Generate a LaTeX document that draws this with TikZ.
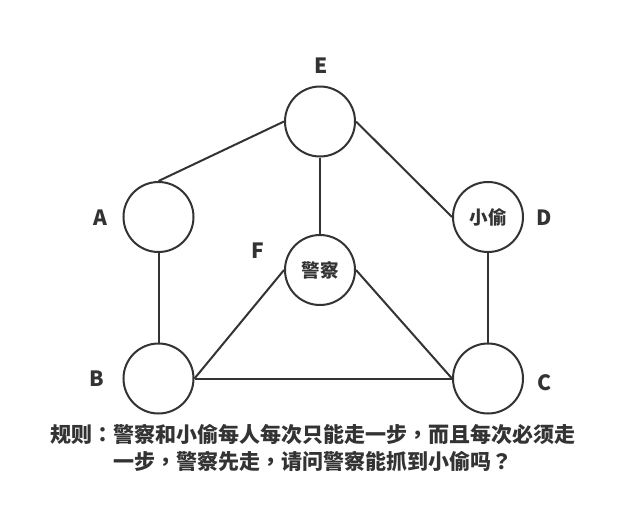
\documentclass[tikz,border=0pt]{standalone}
\usepackage{fontspec}
\newfontfamily\cjk{Noto Sans CJK SC}
\newfontfamily\cjkp{Noto Sans CJK TC}
\newcommand{\pc}[1]{{\cjkp #1}}
\definecolor{ink}{HTML}{333333}
\begin{document}
\begin{tikzpicture}[x=1pt,y=-1pt,
  vtx/.style={circle,draw=ink,line width=2pt,minimum size=70pt,inner sep=0pt,font=\cjk\bfseries\fontsize{18.5}{20}\selectfont,text=ink},
  lbl/.style={anchor=base,inner sep=0pt,font=\cjk\bfseries\fontsize{21}{24}\selectfont,text=ink},
  link/.style={draw=ink,line width=2pt}]
\useasboundingbox (0,0) rectangle (641,528);
\fill[white] (0,0) rectangle (641,528);
% vertices
\node[vtx] (E) at (320,121.5) {};
\node[vtx] (A) at (158.5,217) {};
\node[vtx] (F) at (320,270) {警察};
\node[vtx] (D) at (488,217) {小偷};
\node[vtx] (B) at (158.5,378.5) {};
\node[vtx] (C) at (488,378.5) {};
% labels
\node[lbl] (lE) at (321,73) {E};
\node[lbl] (lA) at (100,225) {A};
\node[lbl] (lD) at (544.5,225) {D};
\node[lbl] (lF) at (258,258.5) {F};
\node[lbl] (lB) at (96.5,386.5) {B};
\node[lbl] (lC) at (545,390) {C};
% edges
\draw[link] (E.west) -- (A.north);
\draw[link] (E.south) -- (F.north);
\draw[link] (E.east) -- (D.west);
\draw[link] (D.south) -- (C.north);
\draw[link] (A.south) -- (B.north);
\draw[link] (F.west) -- (B.east);
\draw[link] (F.east) -- (C.west);
\draw[link] (B.east) -- (C.west);
% rule text
\node[font=\cjk\bfseries\fontsize{21}{27}\selectfont,align=center,text=ink,inner sep=0pt] (rule) at (313,447.5)
  {规则\pc{：}警察和小偷每人每次只能走一步\pc{，}而且每次必须走\\一步\pc{，}警察先走\pc{，}请问警察能抓到小偷吗\pc{？}};
\end{tikzpicture}
\end{document}
